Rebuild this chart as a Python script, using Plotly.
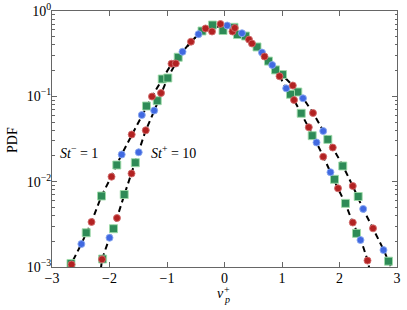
import plotly.graph_objects as go

# ---- data ----
# St^- = 1 (wider distribution)
st1_blue_x = [-2.489, -1.788, -1.438, -0.730, -0.452, 0.047, 0.304, 0.652, 0.830, 1.365, 1.717, 2.412, 2.765]
st1_blue_y = [0.00186, 0.0208, 0.0604, 0.333, 0.535, 0.676, 0.549, 0.326, 0.233, 0.0948, 0.0392, 0.00479, 0.00158]
st1_red_x = [-2.660, -2.313, -1.965, -1.614, -1.261, -0.922, -0.583, -0.330, -0.070, 0.426, 0.696, 1.188, 1.539, 1.883, 2.231, 2.583]
st1_red_y = [0.00107, 0.00337, 0.01143, 0.0357, 0.0995, 0.241, 0.437, 0.624, 0.704, 0.463, 0.293, 0.134, 0.0638, 0.0251, 0.00890, 0.00284]
st1_green_x = [-2.670, -2.405, -2.139, -1.873, -1.357, -1.083, -0.805, -0.209, 0.165, 0.365, 0.565, 0.765, 1.009, 1.275, 1.797, 2.057, 2.325, 2.852]
st1_green_y = [0.00110, 0.00252, 0.00679, 0.01567, 0.0770, 0.1596, 0.287, 0.685, 0.644, 0.509, 0.379, 0.259, 0.180, 0.1124, 0.0313, 0.01527, 0.00670, 0.00117]

# St^+ = 10 (narrower distribution)
st10_blue_x = [-2.000, -1.492, -1.223, 1.073, 1.600, 1.843, 2.365]
st10_blue_y = [0.00220, 0.0221, 0.0682, 0.124, 0.0288, 0.0129, 0.00207]
st10_red_x = [-2.130, -1.870, -1.617, -1.369, -1.104, -0.847, -0.217, 0.139, 0.179, 0.478, 0.957, 1.209, 1.466, 1.717, 1.974, 2.231, 2.487]
st10_red_y = [0.00123, 0.00375, 0.01246, 0.0400, 0.1094, 0.2426, 0.575, 0.575, 0.632, 0.416, 0.172, 0.0906, 0.0434, 0.0196, 0.00836, 0.00332, 0.00119]
st10_green_x = [-2.120, -1.930, -1.744, -1.551, -1.170, -0.986, -0.391, -0.026, 0.226, 0.887, 1.148, 1.334, 1.525, 1.913, 2.104, 2.296]
st10_green_y = [0.00124, 0.00281, 0.00707, 0.01668, 0.0889, 0.164, 0.583, 0.591, 0.530, 0.204, 0.1057, 0.0633, 0.0346, 0.01066, 0.00557, 0.00248]

# dashed reference curves
fit1_x = [-2.72, -2.67, -2.49, -2.31, -2.14, -1.97, -1.79, -1.61, -1.44, -1.26, -1.08, -0.92, -0.73, -0.58, -0.45, -0.33, -0.20, -0.07, 0.05, 0.17, 0.30, 0.43, 0.57, 0.70, 0.83, 1.01, 1.19, 1.37, 1.54, 1.72, 1.88, 2.06, 2.23, 2.41, 2.58, 2.77, 2.85, 2.92]
fit1_y = [0.00095, 0.00107, 0.00186, 0.0034, 0.0068, 0.0114, 0.0208, 0.0357, 0.060, 0.0995, 0.160, 0.241, 0.333, 0.437, 0.535, 0.61, 0.65, 0.66, 0.65, 0.62, 0.55, 0.463, 0.379, 0.293, 0.233, 0.175, 0.134, 0.0948, 0.0638, 0.0392, 0.0251, 0.0153, 0.0089, 0.0048, 0.00284, 0.00158, 0.00117, 0.00092]
fit10_x = [-2.15, -2.13, -2.00, -1.87, -1.74, -1.62, -1.49, -1.37, -1.22, -1.10, -0.99, -0.85, -0.73, -0.58, -0.45, -0.33, -0.20, -0.07, 0.05, 0.17, 0.30, 0.43, 0.57, 0.70, 0.83, 0.96, 1.07, 1.21, 1.33, 1.47, 1.60, 1.72, 1.84, 1.97, 2.10, 2.23, 2.37, 2.49, 2.52]
fit10_y = [0.00095, 0.00123, 0.0022, 0.00375, 0.0071, 0.0125, 0.0221, 0.040, 0.068, 0.109, 0.164, 0.243, 0.33, 0.437, 0.535, 0.60, 0.64, 0.655, 0.645, 0.615, 0.55, 0.46, 0.375, 0.29, 0.228, 0.172, 0.124, 0.0906, 0.0633, 0.0434, 0.0288, 0.0196, 0.0129, 0.0084, 0.0056, 0.0033, 0.0021, 0.00119, 0.00095]

y_tickvals = [0.001, 0.01, 0.1, 1]
y_ticktext = ["10<sup>−3</sup>", "10<sup>−2</sup>", "10<sup>−1</sup>", "10<sup>0</sup>"]
x_tickvals = [-3, -2, -1, 0, 1, 2, 3]
x_ticktext = ["−3", "−2", "−1", "0", "1", "2", "3"]

BLUE = "#4169E1"
RED = "#B22222"
GREEN = "#2E8B57"
FONT = "Liberation Serif"

fig = go.Figure()

for fx, fy in [(fit1_x, fit1_y), (fit10_x, fit10_y)]:
    fig.add_trace(go.Scatter(x=fx, y=fy, mode="lines",
                             line=dict(color="black", width=2, dash="6px,4px"),
                             showlegend=False, hoverinfo="skip"))

def add_markers(xs, ys, color, symbol, size, edge):
    fig.add_trace(go.Scatter(x=xs, y=ys, mode="markers",
                             marker=dict(color=color, symbol=symbol, size=size,
                                         line=dict(color=edge, width=1)),
                             showlegend=False))

for xs, ys in [(st1_green_x, st1_green_y), (st10_green_x, st10_green_y)]:
    add_markers(xs, ys, GREEN, "square", 8, "rgba(160,220,170,0.9)")
for xs, ys in [(st1_blue_x, st1_blue_y), (st10_blue_x, st10_blue_y)]:
    add_markers(xs, ys, BLUE, "circle", 7, "rgba(140,170,240,0.9)")
for xs, ys in [(st1_red_x, st1_red_y), (st10_red_x, st10_red_y)]:
    add_markers(xs, ys, RED, "circle", 7, "rgba(210,110,110,0.9)")

axis_common = dict(showline=True, linecolor="#666666", linewidth=1, mirror="ticks",
                   ticks="inside", tickcolor="#666666", showgrid=False, zeroline=False,
                   automargin=False,
                   tickfont=dict(family=FONT, size=14, color="black"))

fig.update_xaxes(range=[-3, 3], tickvals=x_tickvals, ticktext=x_ticktext,
                 ticklen=5, ticklabelstandoff=-2, **axis_common)
fig.update_yaxes(type="log", range=[-3, 0], tickvals=y_tickvals, ticktext=y_ticktext,
                 ticklen=5, ticklabelstandoff=-3,
                 minor=dict(ticks="inside", ticklen=2.5, tickcolor="#666666",
                            dtick="D1", showgrid=False),
                 **axis_common)

L, R, T, B = 52, 10, 11, 43
W, H = 407, 310
pw, ph = W - L - R, H - T - B

def px(xp):
    return (xp - L) / pw

def py(yp):
    return (H - B - yp) / ph

ann_font = dict(family=FONT, size=14, color="black")
def label(xp, yp, text, size=14, angle=0):
    fig.add_annotation(x=px(xp), y=py(yp), xref="paper", yref="paper", text=text,
                       textangle=angle, showarrow=False, xanchor="center",
                       yanchor="middle", borderpad=0,
                       font=dict(family=FONT, size=size, color="black"))

label(12, 140, "PDF", angle=-90)
label(220, 293, "<i>v</i>")
label(226.5, 289.5, "+", size=10)
label(226.5, 299.5, "<i>p</i>", size=10)

fig.add_annotation(x=-2.89, y=-1.652, xref="x", yref="y", xanchor="left", yanchor="middle",
                   text="<i>St</i><sup>−</sup> = 1", showarrow=False, font=ann_font)
fig.add_annotation(x=-1.32, y=-1.652, xref="x", yref="y", xanchor="left", yanchor="middle",
                   text="<i>St</i><sup>+</sup> = 10", showarrow=False, font=ann_font)

fig.update_layout(width=W, height=H,
                  margin=dict(l=L, r=R, t=T, b=B, autoexpand=False),
                  paper_bgcolor="white", plot_bgcolor="white",
                  font=dict(family=FONT, color="black"))

fig.write_html("out.html", config={"displayModeBar": False},
               post_script="document.body.style.margin='0';document.body.style.padding='0';")
